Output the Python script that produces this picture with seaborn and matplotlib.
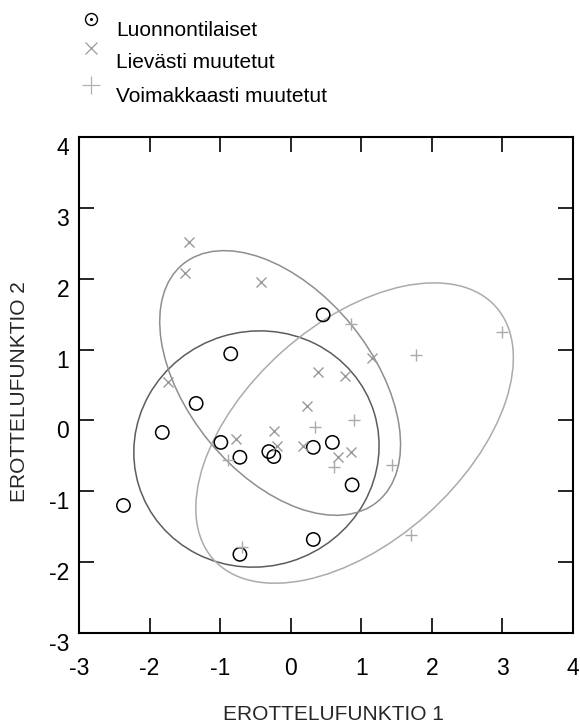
import numpy as np
import pandas as pd
import matplotlib
matplotlib.use("Agg")
import matplotlib.pyplot as plt
import seaborn as sns
from matplotlib.patches import Ellipse
from matplotlib.lines import Line2D

# ---- data ----
group_names = ["Luonnontilaiset", "Lievästi muutetut", "Voimakkaasti muutetut"]

luonn_x = [0.46, -0.85, -1.34, -1.82, -0.99, -0.72, -0.31, -0.24, 0.32, 0.59, -2.37, 0.32, -0.72, 0.87]
luonn_y = [1.49, 0.94, 0.24, -0.17, -0.31, -0.52, -0.44, -0.51, -0.38, -0.31, -1.20, -1.68, -1.89, -0.91]

liev_x = [-1.44, -1.50, -0.42, 0.38, 0.77, 1.15, -1.74, 0.23, -0.24, -0.78, -0.20, 0.17, 0.85, 0.67]
liev_y = [2.52, 2.08, 1.95, 0.69, 0.62, 0.88, 0.54, 0.21, -0.15, -0.26, -0.36, -0.36, -0.44, -0.52]

voim_x = [0.86, 3.00, 1.77, 0.35, 0.90, -0.89, 0.61, 1.43, 1.71, -0.69]
voim_y = [1.36, 1.25, 0.93, -0.09, 0.01, -0.56, -0.66, -0.63, -1.61, -1.78]

# group ellipses (semi-axes in data units, rotation in degrees), centred on group means
ell_semi_a = [1.745, 2.17, 2.68]
ell_semi_b = [1.66, 1.30, 1.54]
ell_angle = [17.0, -50.5, 41.6]

ticks = [-3, -2, -1, 0, 1, 2, 3, 4]
xlabel = "EROTTELUFUNKTIO 1"
ylabel = "EROTTELUFUNKTIO 2"

# ---- styling ----
sns.set_style("white")
plt.rcParams["font.family"] = ["Liberation Sans", "DejaVu Sans"]

W, H = 580, 727
fig = plt.figure(figsize=(W / 100, H / 100), dpi=100)
ax = fig.add_axes([79 / W, 1 - 633 / H, 494 / W, 496 / H])

df = pd.concat([
    pd.DataFrame({"x": luonn_x, "y": luonn_y, "g": group_names[0]}),
    pd.DataFrame({"x": liev_x, "y": liev_y, "g": group_names[1]}),
    pd.DataFrame({"x": voim_x, "y": voim_y, "g": group_names[2]}),
], ignore_index=True)

ell_colors = ["#5c5c5c", "#8e8e8e", "#ababab"]
for i, g in enumerate(group_names):
    sub = df[df["g"] == g]
    cx, cy = sub["x"].mean(), sub["y"].mean()
    e = Ellipse((cx, cy), width=2 * ell_semi_a[i], height=2 * ell_semi_b[i],
                angle=ell_angle[i], fill=False, edgecolor=ell_colors[i], lw=1.1, zorder=1)
    ax.add_patch(e)

sns.scatterplot(data=df[df["g"] == group_names[0]], x="x", y="y", marker="o",
                s=9.6 ** 2, facecolors="none", edgecolor="black", linewidth=1.1,
                ax=ax, zorder=3, legend=False)
sns.scatterplot(data=df[df["g"] == group_names[1]], x="x", y="y", marker="x",
                s=7.2 ** 2, color="#9a9a9a", linewidth=1.0, ax=ax, zorder=3, legend=False)
sns.scatterplot(data=df[df["g"] == group_names[2]], x="x", y="y", marker="+",
                s=8.0 ** 2, color="#ababab", linewidth=1.0, ax=ax, zorder=3, legend=False)

ax.set_xlim(-3, 4)
ax.set_ylim(-3, 4)
ax.set_xticks(ticks)
ax.set_yticks(ticks)
ax.set_xticklabels([str(t) for t in ticks])
ax.set_yticklabels([str(t) for t in ticks])
ax.tick_params(axis="both", direction="in", length=11, width=1.2, color="black",
               bottom=True, left=True, top=True, right=True,
               labelsize=16.5, labelcolor="black")
ax.tick_params(axis="x", pad=17)
ax.tick_params(axis="y", pad=7)
for lab in ax.get_yticklabels():
    lab.set_va("top")
for sp in ax.spines.values():
    sp.set_color("black")
    sp.set_linewidth(1.5)

ax.set_xlabel(xlabel, fontsize=15)
ax.set_ylabel(ylabel, fontsize=15)
ax.xaxis.set_label_coords((333.5 - 79) / 494, (633 - 715) / 496)
ax.xaxis.label.set_va("center")
ax.yaxis.set_label_coords((20 - 79) / 494, (633 - 392) / 496)
ax.yaxis.label.set_va("center")

# ---- legend (markers above-left of labels) ----
leg_marker_y = [19, 48.3, 85]
leg_text_base = [36, 68, 102.5]
mx = 90.7 / W
fig.add_artist(Line2D([mx], [1 - leg_marker_y[0] / H], marker="o", markersize=8.6,
                      mfc="none", mec="black", mew=1.0, ls="none", transform=fig.transFigure))
fig.add_artist(Line2D([mx], [1 - leg_marker_y[0] / H], marker="o", markersize=1.2,
                      mfc="black", mec="black", ls="none", transform=fig.transFigure))
fig.add_artist(Line2D([mx], [1 - leg_marker_y[1] / H], marker="x", markersize=8.6,
                      mec="#9a9a9a", mew=0.9, ls="none", transform=fig.transFigure))
fig.add_artist(Line2D([mx], [1 - leg_marker_y[2] / H], marker="+", markersize=13,
                      mec="#b0b0b0", mew=0.9, ls="none", transform=fig.transFigure))
for name, yb in zip(group_names, leg_text_base):
    fig.text(116 / W, 1 - yb / H, name, fontsize=15, ha="left", va="baseline", color="black")

fig.savefig("out.png", dpi=100)
